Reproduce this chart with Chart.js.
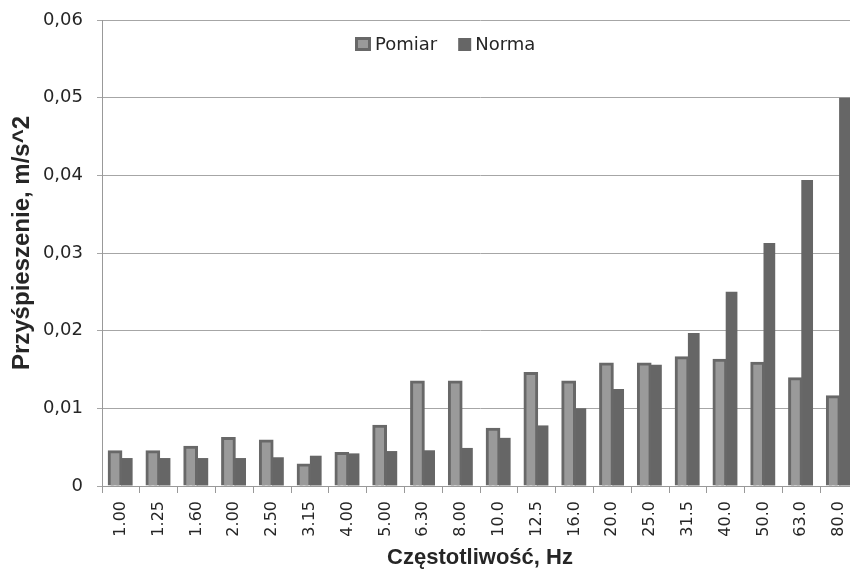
<!DOCTYPE html>
<html lang="pl">
<head>
  <meta charset="UTF-8" />
  <title>Przyśpieszenie</title>
  <script src="https://cdn.jsdelivr.net/npm/chart.js"></script>
  <style>
    html, body { margin: 0; padding: 0; background: #fff; overflow: hidden; }
    #wrap { width: 870px; height: 571px; }
  </style>
</head>
<body>
  <div id="wrap"><canvas id="chart" width="870" height="571"></canvas></div>
  <script>
    const freqs = ['1.00', '1.25', '1.60', '2.00', '2.50', '3.15', '4.00', '5.00', '6.30', '8.00',
                   '10.0', '12.5', '16.0', '20.0', '25.0', '31.5', '40.0', '50.0', '63.0', '80.0'];
    const pomiar = [0.0044, 0.0044, 0.0050, 0.0061, 0.0058, 0.0027, 0.0042, 0.0077, 0.0134, 0.0134,
                    0.0073, 0.0145, 0.0134, 0.0157, 0.0157, 0.0165, 0.0162, 0.0158, 0.0138, 0.0115];
    const norma = [0.0036, 0.0036, 0.0036, 0.0036, 0.0037, 0.0039, 0.0042, 0.0045, 0.0046, 0.0049,
                   0.0062, 0.0078, 0.0100, 0.0125, 0.0156, 0.0197, 0.0250, 0.0313, 0.0394, 0.0500];
    const yTicks = [0, 0.01, 0.02, 0.03, 0.04, 0.05, 0.06];

    const yTickFont = { family: 'DejaVu Sans', size: 18 };
    const xTickFont = { family: 'DejaVu Sans', size: 16 };
    const textColor = '#262626';

    // legend sits inside the plot, near the top, a bit left of centre
    const plotLegend = {
      id: 'plotLegend',
      afterDraw(chart) {
        const ctx = chart.ctx;
        const area = chart.chartArea;
        const ds = chart.data.datasets;
        let x = area.left + 253;
        const y = area.top + 24;
        ctx.save();
        ctx.font = '18px "DejaVu Sans"';
        ctx.textBaseline = 'middle';
        ds.forEach(d => {
          const bw = d.borderWidth || 0;
          const size = bw ? 16 : 13;
          const top = y - (bw ? 7 : 6);
          ctx.fillStyle = bw ? d.borderColor : d.backgroundColor;
          ctx.fillRect(x, top, size, bw ? 14 : 13);
          if (bw) {
            ctx.fillStyle = d.backgroundColor;
            ctx.fillRect(x + bw, top + bw, size - 2 * bw, 14 - 2 * bw);
          }
          ctx.fillStyle = textColor;
          ctx.fillText(d.label, x + size + 4, y + 1);
          x += size + 4 + ctx.measureText(d.label).width + 21;
        });
        ctx.restore();
      }
    };

    new Chart(document.getElementById('chart'), {
      type: 'bar',
      data: {
        labels: freqs,
        datasets: [
          {
            label: 'Pomiar',
            data: pomiar,
            backgroundColor: '#9a9a9a',
            borderColor: '#686868',
            borderWidth: 3,
            inflateAmount: 1.5
          },
          {
            label: 'Norma',
            data: norma,
            backgroundColor: '#666666',
            borderWidth: 0
          }
        ]
      },
      options: {
        responsive: false,
        animation: false,
        layout: { padding: { top: 20, right: 12, bottom: 0, left: 8 } },
        datasets: { bar: { categoryPercentage: 0.62, barPercentage: 1.0 } },
        plugins: {
          tooltip: { enabled: false },
          legend: { display: false }
        },
        scales: {
          x: {
            afterFit: axis => {
              axis.height = 85;
              axis.paddingLeft = 0;
              axis.paddingRight = 0;
            },
            grid: { drawOnChartArea: false, color: '#999', tickLength: 7 },
            border: { color: '#999' },
            ticks: { font: xTickFont, color: textColor, maxRotation: 90, minRotation: 90, padding: 8 },
            title: {
              display: true,
              text: 'Częstotliwość, Hz',
              font: { family: 'Liberation Sans', size: 22, weight: 'bold' },
              color: textColor,
              padding: { top: 0, bottom: 0 }
            }
          },
          y: {
            min: 0,
            max: 0.06,
            afterBuildTicks: axis => { axis.ticks = yTicks.map(v => ({ value: v })); },
            afterFit: axis => {
              axis.width = 94;
              axis.paddingTop = 0;
              axis.paddingBottom = 0;
            },
            grid: { color: '#a6a6a6', tickLength: 5 },
            border: { color: '#999' },
            ticks: {
              font: yTickFont,
              color: textColor,
              padding: 14,
              callback: v => v === 0 ? '0' : v.toFixed(2).replace('.', ',')
            },
            title: {
              display: true,
              // leading spaces nudge the title up a little, as in the original
              text: '\u00a0\u00a0\u00a0Przyśpieszenie, m/s^2',
              font: { family: 'Liberation Sans', size: 24, weight: 'bold' },
              color: textColor,
              padding: { top: 0, bottom: 0 }
            }
          }
        }
      },
      plugins: [plotLegend]
    });
  </script>
</body>
</html>
